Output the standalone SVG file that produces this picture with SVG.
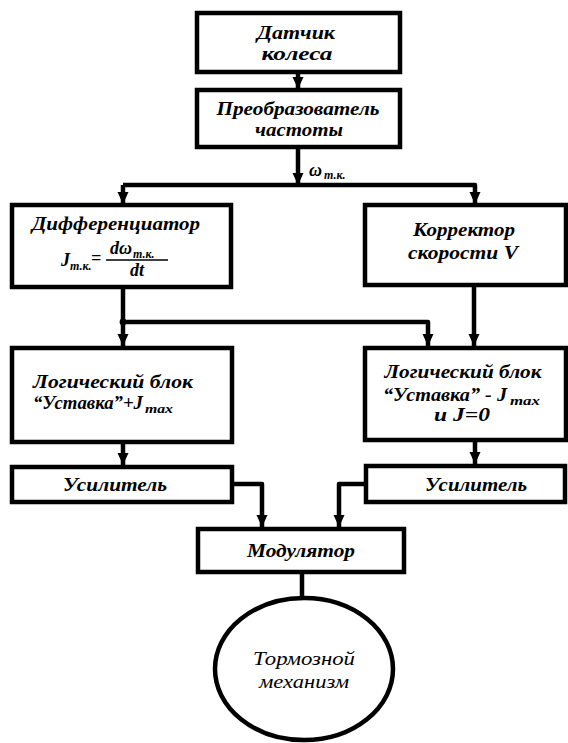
<svg xmlns="http://www.w3.org/2000/svg" width="568" height="743" viewBox="0 0 568 743">
  <style>
    .box { fill: #fff; stroke: #000; stroke-width: 4.5; }
    .wire { fill: none; stroke: #000; stroke-width: 4.5; stroke-linejoin: round; }
    .t { font-family: "Liberation Serif", "DejaVu Serif", serif; font-style: italic; font-weight: bold; font-size: 18px; text-anchor: middle; fill: #000; }
    .st { text-anchor: start; }
    .s { font-size: 12px; }
    .lt { font-weight: normal; }
  </style>
  <defs>
    <marker id="arr" markerUnits="userSpaceOnUse" markerWidth="14" markerHeight="14" viewBox="0 0 14 14" refX="13" refY="7" orient="auto">
      <path d="M1,1.5 L13,7 L1,12.5 Z" fill="#000"/>
    </marker>
  </defs>

  <rect width="568" height="743" fill="#fff"/>

  <!-- connectors -->
  <g id="connectors">
    <path class="wire" d="M298,72 V89" marker-end="url(#arr)"/>
    <path class="wire" d="M298,147 V185" marker-end="url(#arr)"/>
    <path class="wire" d="M123,185 H475 V204" marker-end="url(#arr)"/>
    <path class="wire" d="M123,185 V204" marker-end="url(#arr)"/>
    <path class="wire" d="M123,287 V346" marker-end="url(#arr)"/>
    <path class="wire" d="M123,322 H428 V346" marker-end="url(#arr)"/>
    <path class="wire" d="M474,285 V346" marker-end="url(#arr)"/>
    <path class="wire" d="M123,442 V465" marker-end="url(#arr)"/>
    <path class="wire" d="M475,440 V464" marker-end="url(#arr)"/>
    <path class="wire" d="M232,484 H262 V527" marker-end="url(#arr)"/>
    <path class="wire" d="M366,484 H339 V527" marker-end="url(#arr)"/>
    <path class="wire" d="M302,572 V598"/>
    <circle cx="123" cy="322" r="3.4" fill="#000"/>
    <text class="t st" x="309" y="176">ω</text>
    <text class="t st s" x="324" y="179">т.к.</text>
  </g>

  <g id="sensor">
    <rect class="box" x="197" y="13" width="203" height="59"/>
    <text class="t" x="296" y="39" textLength="78" lengthAdjust="spacingAndGlyphs">Датчик</text>
    <text class="t" x="297" y="60" textLength="71" lengthAdjust="spacingAndGlyphs">колеса</text>
  </g>

  <g id="converter">
    <rect class="box" x="197" y="90" width="203" height="57"/>
    <text class="t" x="298" y="115" textLength="163" lengthAdjust="spacingAndGlyphs">Преобразователь</text>
    <text class="t" x="299" y="136" textLength="88" lengthAdjust="spacingAndGlyphs">частоты</text>
  </g>

  <g id="differentiator">
    <rect class="box" x="12" y="205" width="219" height="82"/>
    <text class="t" x="116" y="230" textLength="168" lengthAdjust="spacingAndGlyphs">Дифференциатор</text>
    <text class="t st" x="61" y="266">J</text>
    <text class="t st s" x="70" y="270">т.к.</text>
    <text class="t st" x="91" y="264">=</text>
    <text class="t st" x="110" y="254">dω</text>
    <text class="t st s" x="133" y="258">т.к.</text>
    <line x1="106" y1="260" x2="168" y2="260" stroke="#000" stroke-width="1.6"/>
    <text class="t" x="137" y="276">dt</text>
  </g>

  <g id="corrector">
    <rect class="box" x="365" y="205" width="201" height="80"/>
    <text class="t" x="464" y="236" textLength="102" lengthAdjust="spacingAndGlyphs">Корректор</text>
    <text class="t" x="463" y="259" textLength="110" lengthAdjust="spacingAndGlyphs">скорости V</text>
  </g>

  <g id="logic-left">
    <rect class="box" x="12" y="348" width="220" height="94"/>
    <text class="t" x="113" y="388" textLength="160" lengthAdjust="spacingAndGlyphs">Логический блок</text>
    <text class="t st" x="33" y="409" textLength="110" lengthAdjust="spacingAndGlyphs">“Уставка”+J</text>
    <text class="t st s" x="145" y="413" textLength="28" lengthAdjust="spacingAndGlyphs">max</text>
  </g>

  <g id="logic-right">
    <rect class="box" x="365" y="348" width="201" height="92"/>
    <text class="t" x="463" y="378" textLength="157" lengthAdjust="spacingAndGlyphs">Логический блок</text>
    <text class="t st" x="383" y="401" textLength="124" lengthAdjust="spacingAndGlyphs">“Уставка” - J</text>
    <text class="t st s" x="510" y="405" textLength="30" lengthAdjust="spacingAndGlyphs">max</text>
    <text class="t" x="462" y="421" textLength="56" lengthAdjust="spacingAndGlyphs">и J=0</text>
  </g>

  <g id="amp-left">
    <rect class="box" x="12" y="467" width="220" height="35"/>
    <text class="t" x="115" y="491" textLength="104" lengthAdjust="spacingAndGlyphs">Усилитель</text>
  </g>

  <g id="amp-right">
    <rect class="box" x="366" y="466" width="199" height="36"/>
    <text class="t" x="476" y="491" textLength="102" lengthAdjust="spacingAndGlyphs">Усилитель</text>
  </g>

  <g id="modulator">
    <rect class="box" x="198" y="529" width="206" height="43"/>
    <text class="t" x="301" y="557" textLength="108" lengthAdjust="spacingAndGlyphs">Модулятор</text>
  </g>

  <g id="brake">
    <ellipse class="box" cx="304" cy="669" rx="89" ry="71"/>
    <text class="t lt" x="304" y="665" textLength="102" lengthAdjust="spacingAndGlyphs">Тормозной</text>
    <text class="t lt" x="304" y="688" textLength="90" lengthAdjust="spacingAndGlyphs">механизм</text>
  </g>
</svg>
